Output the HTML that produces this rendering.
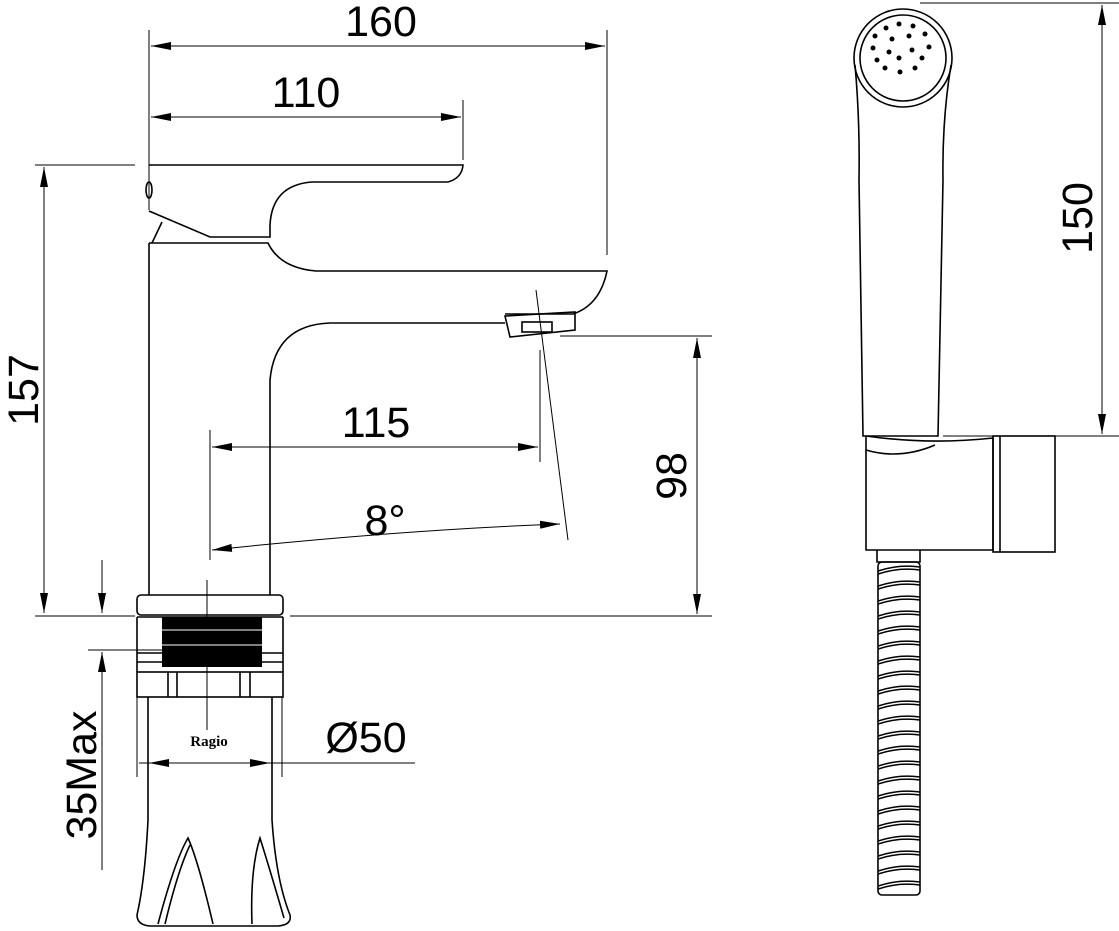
<!DOCTYPE html>
<html><head><meta charset="utf-8"><style>
html,body{margin:0;padding:0;background:#fff;}
svg{display:block;}
text{font-family:"Liberation Sans",Arial,sans-serif;fill:#000;}
</style></head><body>
<svg width="1119" height="931" viewBox="0 0 1119 931" xmlns="http://www.w3.org/2000/svg">
<defs>
<marker id="a" viewBox="0 0 20 8" refX="20" refY="4" markerWidth="20" markerHeight="8" markerUnits="userSpaceOnUse" orient="auto-start-reverse"><path d="M0,0 L20,4 L0,8 Z" fill="#000"/></marker>
<pattern id="hose" x="878" y="562" width="42" height="15" patternUnits="userSpaceOnUse">
<path d="M0,9 Q21,2 42,5 M0,12 Q21,5 42,8" stroke="#000" stroke-width="1.5" fill="none"/>
</pattern>
</defs>
<g fill="none" stroke="#000" stroke-width="1.6">
<line x1="149" y1="30" x2="149" y2="210" stroke-width="1"/>
<line x1="607" y1="30" x2="607" y2="255" stroke-width="1"/>
<line x1="151" y1="46" x2="605" y2="46" stroke-width="1" marker-start="url(#a)" marker-end="url(#a)"/>
<line x1="463" y1="100" x2="463" y2="160" stroke-width="1"/>
<line x1="151" y1="117" x2="461" y2="117" stroke-width="1" marker-start="url(#a)" marker-end="url(#a)"/>
<line x1="35" y1="165" x2="135" y2="165" stroke-width="1"/>
<line x1="44" y1="167" x2="44" y2="613" stroke-width="1" marker-start="url(#a)" marker-end="url(#a)"/>
<line x1="35" y1="616" x2="135" y2="616" stroke-width="1"/>
<line x1="290" y1="616" x2="712" y2="616" stroke-width="1"/>
<line x1="102" y1="560" x2="102" y2="613" stroke-width="1" marker-end="url(#a)"/>
<line x1="88" y1="650" x2="165" y2="650" stroke-width="1"/>
<line x1="102" y1="870" x2="102" y2="652" stroke-width="1" marker-end="url(#a)"/>
<line x1="210" y1="430" x2="210" y2="560" stroke-width="1"/>
<line x1="212" y1="447" x2="538" y2="447" stroke-width="1" marker-start="url(#a)" marker-end="url(#a)"/>
<line x1="540" y1="350" x2="540" y2="462" stroke-width="1"/>
<line x1="536" y1="290" x2="568" y2="540" stroke-width="1"/>
<path d="M212,550 Q400,530 560,524" stroke-width="1" marker-start="url(#a)" marker-end="url(#a)"/>
<line x1="560" y1="336" x2="712" y2="336" stroke-width="1"/>
<line x1="697" y1="338" x2="697" y2="614" stroke-width="1" marker-start="url(#a)" marker-end="url(#a)"/>
<line x1="139" y1="763" x2="415" y2="763" stroke-width="1"/>
<line x1="170" y1="763" x2="149" y2="763" stroke-width="1" marker-end="url(#a)"/>
<line x1="250" y1="763" x2="270" y2="763" stroke-width="1" marker-end="url(#a)"/>
<line x1="137" y1="697" x2="137" y2="777" stroke-width="1"/>
<line x1="282" y1="697" x2="282" y2="777" stroke-width="1"/>
<line x1="207" y1="580" x2="207" y2="730" stroke-width="1"/>
<path d="M149,165 L463,165 Q462,178 448,182 L312,182 Q272,185 270,225 L270,237 L210,237 L149,211"/>
<ellipse cx="149" cy="190" rx="3" ry="8"/>
<path d="M162,222 L152,243"/>
<path d="M149,243 L268,243 Q280,268 316,271 L607,271 Q600,305 573,314 L505,314"/>
<path d="M149,243 L149,595"/>
<path d="M505,323 L330,323 Q275,325 270,380 L270,595"/>
<path d="M505,316 L575,312 L575,330 L510,337 Z"/>
<rect x="522" y="322" width="30" height="10"/>
<rect x="137" y="595" width="146" height="20" rx="4"/>
<rect x="162" y="617" width="100" height="50" fill="#000" stroke="none"/>
<line x1="162" y1="630" x2="262" y2="630" stroke="#fff" stroke-width="1"/>
<line x1="162" y1="645" x2="262" y2="645" stroke="#fff" stroke-width="1"/>
<line x1="137" y1="617" x2="283" y2="617"/>
<line x1="137" y1="653" x2="283" y2="653"/>
<line x1="137" y1="662" x2="283" y2="662"/>
<line x1="137" y1="617" x2="137" y2="672"/>
<line x1="283" y1="617" x2="283" y2="672"/>
<rect x="137" y="672" width="146" height="25"/>
<line x1="168" y1="672" x2="168" y2="697"/><line x1="177" y1="672" x2="177" y2="697"/>
<line x1="240" y1="672" x2="240" y2="697"/><line x1="250" y1="672" x2="250" y2="697"/>
<path d="M148,697 L148,820 Q145,880 137,915 Q137,925 150,926 L278,926 Q292,925 290,915 Q276,880 272,820 L272,697"/>
<path d="M158,924 Q175,860 188,838 Q198,860 213,924"/>
<path d="M165,924 Q178,870 190,845"/>
<path d="M252,924 Q250,870 260,838 Q270,870 284,918"/>
<circle cx="903" cy="58" r="49"/>
<circle cx="903" cy="58" r="43"/>
<path d="M855,65 Q860,120 859,180 L863,436 L938,436 L943,180 Q942,120 951,65"/>
<path d="M866,436 L866,550 L993,550 L993,438 Q930,445 866,436"/>
<path d="M866,450 Q900,460 935,445"/>
<rect x="993" y="436" width="62" height="116"/>
<line x1="1000" y1="436" x2="1000" y2="552"/>
<path d="M877,550 L877,562 L920,562 L920,550"/>
<rect x="878" y="562" width="42" height="333" rx="4" fill="url(#hose)"/>
<line x1="920" y1="3" x2="1119" y2="3" stroke-width="1"/>
<line x1="943" y1="436" x2="1119" y2="436" stroke-width="1"/>
<line x1="1102" y1="5" x2="1102" y2="434" stroke-width="1" marker-start="url(#a)" marker-end="url(#a)"/>
</g>
<g fill="#000">
<circle cx="899" cy="24" r="2.5"/><circle cx="913" cy="26" r="2.5"/><circle cx="886" cy="28" r="2.5"/>
<circle cx="875" cy="36" r="2.5"/><circle cx="892" cy="39" r="2.5"/><circle cx="909" cy="36" r="2.5"/><circle cx="925" cy="34" r="2.5"/>
<circle cx="873" cy="48" r="2.5"/><circle cx="889" cy="52" r="2.5"/><circle cx="912" cy="50" r="2.5"/><circle cx="929" cy="47" r="2.5"/>
<circle cx="877" cy="60" r="2.5"/><circle cx="899" cy="58" r="2.5"/><circle cx="922" cy="58" r="2.5"/>
<circle cx="885" cy="68" r="2.5"/><circle cx="900" cy="72" r="2.5"/><circle cx="915" cy="68" r="2.5"/>
</g>
<text x="381" y="36" font-size="43" text-anchor="middle">160</text>
<text x="306" y="107" font-size="43" text-anchor="middle">110</text>
<text x="376" y="437" font-size="43" text-anchor="middle">115</text>
<text x="385" y="535" font-size="43" text-anchor="middle">8°</text>
<text x="366" y="752" font-size="43" text-anchor="middle">Ø50</text>
<text x="209" y="746" text-anchor="middle" style="font-family:'Liberation Serif',serif;font-size:15px;font-weight:bold;">Ragio</text>
<text transform="translate(38,390) rotate(-90)" font-size="43" text-anchor="middle">157</text>
<text transform="translate(686,476) rotate(-90)" font-size="43" text-anchor="middle">98</text>
<text transform="translate(96,775) rotate(-90)" font-size="43" text-anchor="middle">35Max</text>
<text transform="translate(1092,218) rotate(-90)" font-size="43" text-anchor="middle">150</text>
</svg>
</body></html>
